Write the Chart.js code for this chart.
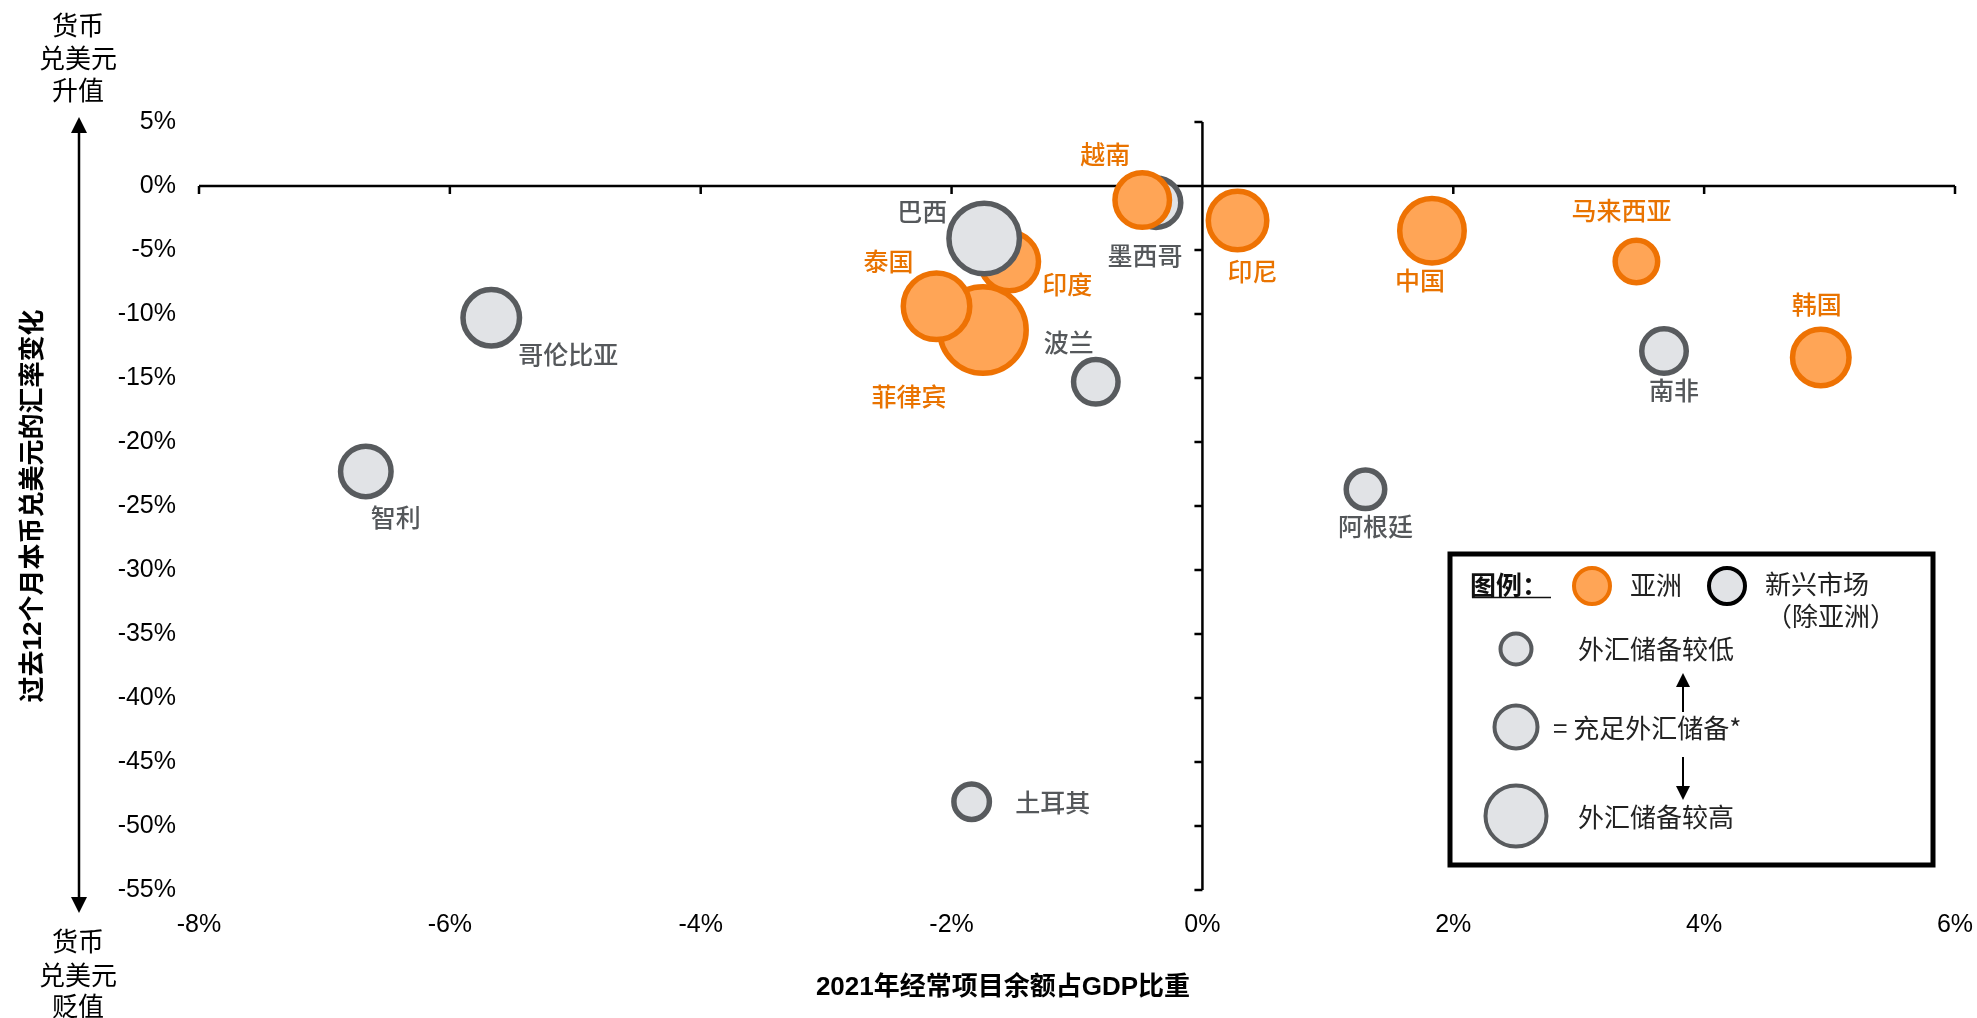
<!DOCTYPE html>
<html><head><meta charset="utf-8">
<script src="https://cdn.jsdelivr.net/npm/chart.js@4.4.0/dist/chart.umd.min.js"></script>
<style>html,body{margin:0;padding:0;background:#fff;}#wrap{width:1977px;height:1018px;}</style>
</head><body><div id="wrap"><canvas id="c" width="1977" height="1018"></canvas></div>
<script>
// ---------- data ----------
const countries = ['菲律宾','泰国','印度','巴西','墨西哥','越南','印尼','中国','马来西亚','韩国','南非','波兰','哥伦比亚','智利','阿根廷','土耳其'];
const region = ['asia','asia','asia','em','em','asia','asia','asia','asia','asia','em','em','em','em','em','em'];
const currentAccountPct = [-1.75,-2.12,-1.54,-1.74,-0.37,-0.48,0.28,1.83,3.46,4.93,3.68,-0.85,-5.67,-6.67,1.30,-1.84];
const fxChangePct = [-11.25,-9.4,-5.9,-4.1,-1.3,-1.1,-2.7,-3.5,-5.9,-13.4,-12.9,-15.3,-10.3,-22.3,-23.7,-48.1];
const reserveIndex = [4.6,3.6,3.2,3.8,2.75,3.0,3.2,3.5,2.4,3.1,2.5,2.5,3.1,2.8,2.2,2.05];
const xTickValues = [-8,-6,-4,-2,0,2,4,6];
const yTickValues = [5,0,-5,-10,-15,-20,-25,-30,-35,-40,-45,-50,-55];
const xTitle = '2021年经常项目余额占GDP比重';
const yTitle = '过去12个月本币兑美元的汇率变化';
const topNote = ['货币','兑美元','升值'];
const bottomNote = ['货币','兑美元','贬值'];
const legendTitle = '图例：';
const legendRegions = ['亚洲','新兴市场','（除亚洲）'];
const legendSizes = ['外汇储备较低','= 充足外汇储备*','外汇储备较高'];

// ---------- layout / style (not data) ----------
const labelOffset = [[-74,66],[-48,-45],[58,23],[-62,-27],[-11,53],[-37,-46],[15,51],[-12,50],[-15,-51],[-4,-53],[10,39],[-27,-39],[77,37],[30,46],[10,37],[81,1]];
const BW = 5.5;
const RPX = 10; // px per reserve index unit (outer radius)
const COL = {
  asia:{fill:'#FFA556',border:'#EE7203',text:'#E97300'},
  em:{fill:'#E1E3E6',border:'#585B5E',text:'#55585B'}
};
const LAT = "'Liberation Sans', 'Noto Sans CJK SC', sans-serif";
const CJK = "'Noto Sans CJK SC', 'Liberation Sans', sans-serif";

const points = countries.map((c,i)=>({x:currentAccountPct[i], y:fxChangePct[i], r:reserveIndex[i]*RPX - BW/2}));

function arrow(ctx, x, yFrom, yTip, hw, hh, lw){
  const dir = yTip > yFrom ? 1 : -1;
  ctx.beginPath();
  ctx.lineWidth = lw;
  ctx.moveTo(x, yFrom);
  ctx.lineTo(x, yTip - dir*hh*0.6);
  ctx.stroke();
  ctx.beginPath();
  ctx.moveTo(x, yTip);
  ctx.lineTo(x - hw/2, yTip - dir*hh);
  ctx.lineTo(x + hw/2, yTip - dir*hh);
  ctx.closePath();
  ctx.fill();
}
function circle(ctx, x, y, rOuter, fill, stroke, lw){
  ctx.save();
  ctx.beginPath();
  ctx.arc(x, y, rOuter - lw/2, 0, Math.PI*2);
  ctx.fillStyle = fill; ctx.fill();
  ctx.lineWidth = lw; ctx.strokeStyle = stroke; ctx.stroke();
  ctx.restore();
}

const overlay = {
  id:'overlay',
  beforeDatasetsDraw(chart){
    const {ctx, chartArea:a, scales:{x,y}} = chart;
    const x0 = x.getPixelForValue(0), y0 = y.getPixelForValue(0);
    ctx.save();
    ctx.strokeStyle = '#000'; ctx.lineWidth = 2.5;
    ctx.beginPath();
    ctx.moveTo(a.left, y0); ctx.lineTo(a.right, y0);
    ctx.moveTo(x0, a.top); ctx.lineTo(x0, a.bottom);
    xTickValues.forEach(v=>{const p = x.getPixelForValue(v); ctx.moveTo(p, y0); ctx.lineTo(p, y0+8);});
    yTickValues.forEach(v=>{const p = y.getPixelForValue(v); ctx.moveTo(x0-8, p); ctx.lineTo(x0, p);});
    ctx.stroke();
    ctx.restore();
  },
  afterDatasetsDraw(chart){
    const {ctx} = chart;
    const meta = chart.getDatasetMeta(0);
    ctx.save();
    ctx.font = "500 25px " + CJK;
    ctx.textAlign = 'center'; ctx.textBaseline = 'middle';
    meta.data.forEach((el,i)=>{
      ctx.fillStyle = COL[region[i]].text;
      ctx.fillText(countries[i], el.x + labelOffset[i][0], el.y + labelOffset[i][1]);
    });
    ctx.restore();
  },
  afterDraw(chart){
    const {ctx, chartArea:a} = chart;
    ctx.save();
    // axis titles
    ctx.fillStyle = '#000';
    ctx.textAlign = 'center'; ctx.textBaseline = 'middle';
    ctx.font = "bold 26px " + LAT;
    ctx.fillText(xTitle, 1003, 988);
    ctx.save();
    ctx.translate(34, (a.top + a.bottom)/2);
    ctx.rotate(-Math.PI/2);
    ctx.font = "bold 26px " + LAT;
    ctx.fillText(yTitle, 0, 0);
    ctx.restore();
    // side notes
    ctx.font = "26px " + CJK;
    [25,58,90].forEach((yy,i)=>ctx.fillText(topNote[i], 78, yy));
    [941,975,1006].forEach((yy,i)=>ctx.fillText(bottomNote[i], 78, yy));
    ctx.strokeStyle = '#000'; ctx.fillStyle = '#000';
    arrow(ctx, 79, 500, 117, 16, 16, 2.5);
    arrow(ctx, 79, 500, 913, 16, 16, 2.5);

    // legend box
    ctx.lineWidth = 5; ctx.strokeStyle = '#000'; ctx.fillStyle = '#fff';
    ctx.fillRect(1450, 554, 483, 311);
    ctx.strokeRect(1450, 554, 483, 311);
    circle(ctx, 1592, 586, 20, COL.asia.fill, COL.asia.border, 4);
    circle(ctx, 1727, 586, 20, COL.em.fill, '#000', 4);
    circle(ctx, 1516, 649, 17.5, COL.em.fill, COL.em.border, 4);
    circle(ctx, 1516, 727, 23.5, COL.em.fill, COL.em.border, 4);
    circle(ctx, 1516, 816, 32.5, COL.em.fill, COL.em.border, 4);
    ctx.textAlign = 'left'; ctx.textBaseline = 'middle';
    ctx.fillStyle = '#111';
    ctx.font = "bold 26px " + CJK;
    ctx.fillText(legendTitle, 1470, 585);
    ctx.lineWidth = 1.5; ctx.strokeStyle = '#111';
    ctx.beginPath(); ctx.moveTo(1472, 597.5); ctx.lineTo(1551, 597.5); ctx.stroke();
    ctx.fillStyle = '#222';
    ctx.font = "26px " + CJK;
    ctx.fillText(legendRegions[0], 1630, 585);
    ctx.fillText(legendRegions[1], 1765, 584);
    ctx.textAlign = 'center';
    ctx.fillText(legendRegions[2], 1831, 616);
    ctx.textAlign = 'left';
    ctx.fillText(legendSizes[0], 1578, 649);
    ctx.fillText(legendSizes[1], 1553, 728);
    ctx.fillText(legendSizes[2], 1578, 817);
    ctx.strokeStyle = '#000'; ctx.fillStyle = '#000';
    arrow(ctx, 1683, 712, 673, 14, 14, 2);
    arrow(ctx, 1683, 757, 800, 14, 14, 2);
    ctx.restore();
  }
};

new Chart(document.getElementById('c'), {
  type:'bubble',
  data:{ datasets:[{
    data: points,
    backgroundColor: ctx => COL[region[ctx.dataIndex]].fill,
    borderColor: ctx => COL[region[ctx.dataIndex]].border,
    borderWidth: BW,
    hoverBorderWidth: BW,
    clip: false
  }]},
  options:{
    responsive:false,
    animation:false,
    events:[],
    layout:{autoPadding:false, padding:{left:0,right:22,top:122,bottom:0}},
    plugins:{legend:{display:false}, tooltip:{enabled:false}},
    scales:{
      x:{
        type:'linear', min:-8, max:6,
        afterFit: s => { s.height = 128; s.paddingLeft = 0; s.paddingRight = 0; },
        afterBuildTicks: s => { s.ticks = xTickValues.map(v=>({value:v})); },
        grid:{display:false, drawTicks:false}, border:{display:false},
        ticks:{padding:20, color:'#000', font:{family:LAT, size:25}, callback:v=>v+'%', maxRotation:0, autoSkip:false}
      },
      y:{
        type:'linear', min:-55, max:5,
        afterFit: s => { s.width = 199; s.paddingTop = 0; s.paddingBottom = 0; },
        afterBuildTicks: s => { s.ticks = yTickValues.map(v=>({value:v})); },
        grid:{display:false, drawTicks:false}, border:{display:false},
        ticks:{padding:23, color:'#000', font:{family:LAT, size:25}, callback:v=>v+'%', autoSkip:false}
      }
    }
  },
  plugins:[overlay]
});
</script>
</body></html>
